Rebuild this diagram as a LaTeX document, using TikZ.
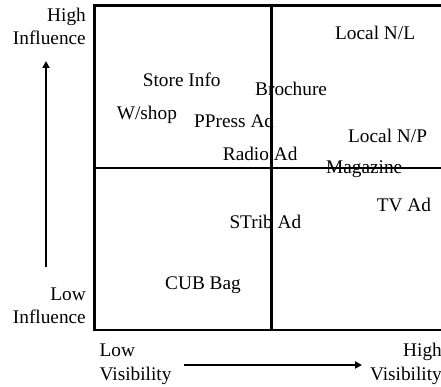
\documentclass[tikz,border=0pt]{standalone}
\usepackage{fontspec}
\setmainfont{Liberation Serif}
\usetikzlibrary{arrows.meta}

\begin{document}
\begin{tikzpicture}[x=1pt, y=-1pt,
  item/.style={anchor=base west, inner sep=0pt, font=\fontsize{19.3}{23.3}\selectfont},
  axislbl/.style={inner sep=0pt, font=\fontsize{19.3}{23.3}\selectfont},
  frame/.style={line width=2.7pt},
  dirarrow/.style={-{Triangle[length=7pt,width=7pt]}, line width=2.3pt}
]
\useasboundingbox (0,0) rectangle (441,387);
\clip (0,0) rectangle (441,387);

% quadrant frame
\draw[frame] (94.7,5.5) rectangle (470,330);
\draw[frame] (271.3,5.5) -- (271.3,330);
\draw[frame] (94.7,168) -- (470,168);

% axis labels (base = last line)
\node[axislbl, align=right, anchor=base east] (hiinf)  at (86,45)     {High\\Influence};
\node[axislbl, align=right, anchor=base east] (loinf)  at (86,323.3)  {Low\\Influence};
\node[axislbl, align=left,  anchor=base west] (lovis)  at (99.5,380)  {Low\\Visibility};
\node[axislbl, align=right, anchor=base east] (hivis)  at (442,380)   {High\\Visibility};

% direction arrows
\coordinate (infS) at (46,266.7);
\coordinate (infE) at (46,61);
\coordinate (visS) at (184,365);
\coordinate (visE) at (362,365);
\draw[dirarrow] (infS) -- (infE);
\draw[dirarrow] (visS) -- (visE);

% media items
\node[item] (localnl)  at (335,39.3)   {Local N/L};
\node[item] (storeinf) at (142.7,87)   {Store Info};
\node[item] (brochure) at (255,95.7)   {Brochure};
\node[item] (wshop)    at (116.7,119.3){W/shop};
\node[item] (ppress)   at (194,128)    {PPress Ad};
\node[item] (localnp)  at (348,143)    {Local N/P};
\node[item] (radio)    at (222.7,160.7){Radio Ad};
\node[item] (magazine) at (326,173.3)  {Magazine};
\node[item] (tvad)     at (376.7,211.7){TV Ad};
\node[item] (strib)    at (229.3,228.3){STrib Ad};
\node[item] (cubbag)   at (165,289)    {CUB Bag};
\end{tikzpicture}
\end{document}
